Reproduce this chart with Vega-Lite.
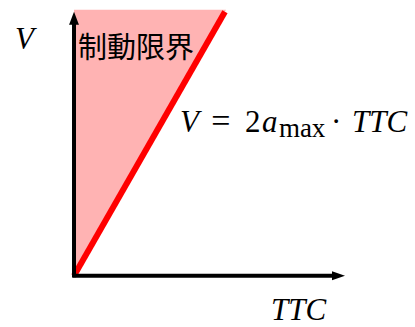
{
  "$schema": "https://vega.github.io/schema/vega-lite/v6.json",
  "width": 415,
  "height": 327,
  "autosize": {"type": "fit", "contains": "padding"},
  "padding": 0,
  "background": "white",
  "config": {"view": {"stroke": null}},
  "encoding": {
    "x": {"field": "t", "type": "quantitative", "scale": {"domain": [-0.2731, 1.2583], "nice": false, "zero": false}, "axis": null},
    "y": {"field": "v", "type": "quantitative", "scale": {"domain": [-0.1754, 1.0448], "nice": false, "zero": false}, "axis": null}
  },
  "layer": [
    {
      "data": {"values": [{"t": 0, "v": 0, "top": 1.0075}, {"t": 0.561, "v": 1.0075, "top": 1.0075}]},
      "mark": {"type": "area", "color": "#FFB3B3", "opacity": 1},
      "encoding": {"y2": {"field": "top"}}
    },
    {
      "data": {"values": [{"t": 0, "v": 0}, {"t": 0.557, "v": 1.0}]},
      "mark": {"type": "line", "color": "#FF0000", "strokeWidth": 6, "strokeCap": "butt"},
      "encoding": {}
    },
    {
      "data": {"values": [{"t": 0, "v": -0.006, "t2": 0, "v2": 0.955}]},
      "mark": {"type": "rule", "color": "black", "strokeWidth": 4},
      "encoding": {"x2": {"field": "t2"}, "y2": {"field": "v2"}}
    },
    {
      "data": {"values": [{"t": -0.006, "v": 0, "t2": 0.955, "v2": 0}]},
      "mark": {"type": "rule", "color": "black", "strokeWidth": 4},
      "encoding": {"x2": {"field": "t2"}, "y2": {"field": "v2"}}
    },
    {
      "data": {"values": [{"t": 0, "v": 0.951}]},
      "mark": {"type": "point", "shape": "M0,-1L0.38,0L-0.38,0Z", "size": 676, "filled": true, "color": "black", "opacity": 1}
    },
    {
      "data": {"values": [{"t": 0.952, "v": 0}]},
      "mark": {"type": "point", "shape": "M1,0L0,-0.34L0,0.34Z", "size": 676, "filled": true, "color": "black", "opacity": 1}
    },
    {
      "data": {"values": [{"t": -0.218, "v": 0.858, "label": "V"}, {"t": 0.391, "v": 0.5448, "label": "V"}, {"t": 0.694, "v": 0.5448, "label": "a"}, {"t": 1.026, "v": 0.5448, "label": "TTC"}, {"t": 0.727, "v": -0.168, "label": "TTC"}]},
      "mark": {"type": "text", "font": "Liberation Serif", "fontStyle": "italic", "fontSize": 31, "align": "left", "baseline": "alphabetic", "color": "black"},
      "encoding": {"text": {"field": "label"}}
    },
    {
      "data": {"values": [{"t": 0.506, "v": 0.5448, "label": "="}]},
      "mark": {"type": "text", "font": "Liberation Serif", "fontSize": 34, "align": "left", "baseline": "alphabetic", "color": "black"},
      "encoding": {"text": {"field": "label"}}
    },
    {
      "data": {"values": [{"t": 0.631, "v": 0.5448, "label": "2"}]},
      "mark": {"type": "text", "font": "Liberation Serif", "fontSize": 31, "align": "left", "baseline": "alphabetic", "color": "black"},
      "encoding": {"text": {"field": "label"}}
    },
    {
      "data": {"values": [{"t": 0.967, "v": 0.5448, "label": "·"}]},
      "mark": {"type": "text", "font": "Liberation Serif", "fontSize": 31, "align": "center", "baseline": "alphabetic", "color": "black"},
      "encoding": {"text": {"field": "label"}}
    },
    {
      "data": {"values": [{"t": 0.756, "v": 0.526, "label": "max"}]},
      "mark": {"type": "text", "font": "Liberation Serif", "fontSize": 27, "align": "left", "baseline": "alphabetic", "color": "black"},
      "encoding": {"text": {"field": "label"}}
    },
    {
      "data": {"values": [{"t": 0.0148, "v": 0.8246, "label": "制動限界"}]},
      "mark": {"type": "text", "font": "Noto Sans CJK JP", "fontSize": 29, "align": "left", "baseline": "alphabetic", "color": "black"},
      "encoding": {"text": {"field": "label"}}
    }
  ]
}
